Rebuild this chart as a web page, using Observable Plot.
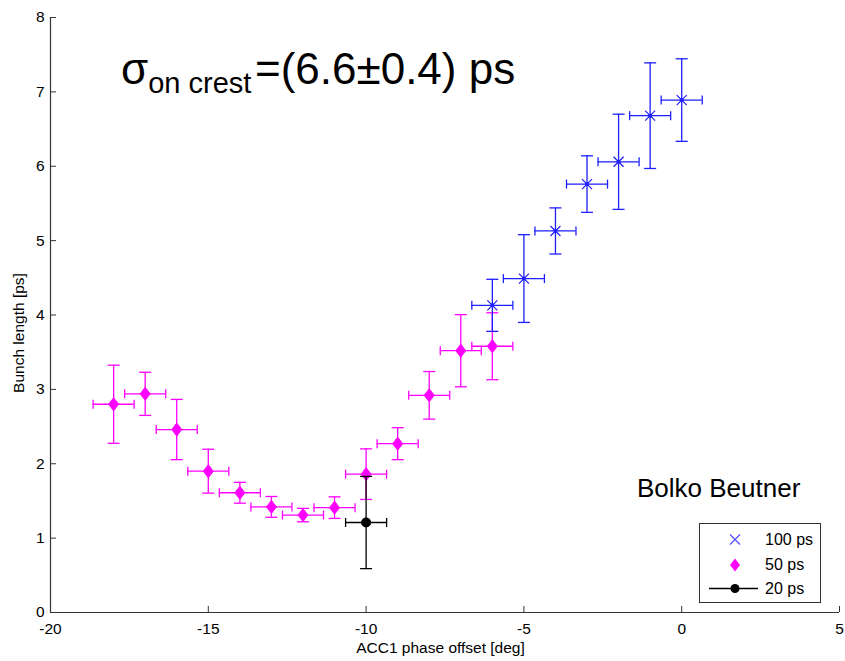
<!DOCTYPE html>
<html><head><meta charset="utf-8">
<script src="https://cdn.jsdelivr.net/npm/d3@7"></script>
<script src="https://cdn.jsdelivr.net/npm/@observablehq/plot@0.6"></script>
<style>
body{margin:0;background:#fff;}
</style></head><body><div id="chart"></div>
<script>
// ---- data ----
const xTicks = [-20, -15, -10, -5, 0, 5];
const yTicks = [0, 1, 2, 3, 4, 5, 6, 7, 8];

// 100 ps (blue)
const phase100 = [-6, -5, -4, -3, -2, -1, 0];
const len100   = [4.13, 4.49, 5.13, 5.76, 6.06, 6.68, 6.89];
const err100   = [0.35, 0.59, 0.31, 0.38, 0.64, 0.71, 0.555];
const xerr100  = [0.65, 0.65, 0.65, 0.65, 0.65, 0.65, 0.65];

// 50 ps (magenta)
const phase50 = [-18, -17, -16, -15, -14, -13, -12, -11, -10, -9, -8, -7, -6];
const len50   = [2.80, 2.94, 2.46, 1.90, 1.61, 1.42, 1.31, 1.41, 1.86, 2.27, 2.92, 3.52, 3.58];
const err50   = [0.525, 0.29, 0.405, 0.295, 0.14, 0.14, 0.09, 0.145, 0.34, 0.215, 0.32, 0.485, 0.45];
const xerr50  = [0.65, 0.65, 0.65, 0.65, 0.65, 0.65, 0.65, 0.65, 0.65, 0.65, 0.65, 0.65, 0.65];

// 20 ps (black)
const phase20 = [-10];
const len20   = [1.21];
const err20   = [0.62];
const xerr20  = [0.65];

const seriesNames = ["100 ps", "50 ps", "20 ps"];

function rows(xs, ys, es, xes) {
  return xs.map((x, i) => ({x, y: ys[i], e: es[i], xe: xes[i]}));
}
const d100 = rows(phase100, len100, err100, xerr100);
const d50 = rows(phase50, len50, err50, xerr50);
const d20 = rows(phase20, len20, err20, xerr20);

const FONT = "'Liberation Sans', Arial, Helvetica, sans-serif";
const BLUE = "#1e1eff", MAG = "#ff00ff", BLK = "#000000";

const W = 845, H = 661, mL = 50, mR = 6, mT = 17, mB = 49;

// pixel-sized symbols for caps and markers
const hcap = {draw(ctx) { ctx.moveTo(-6, 0); ctx.lineTo(6, 0); }};
const vcap = {draw(ctx) { ctx.moveTo(0, -4.5); ctx.lineTo(0, 4.5); }};
const diamond = {draw(ctx) { ctx.moveTo(0, -6.5); ctx.lineTo(5, 0); ctx.lineTo(0, 6.5); ctx.lineTo(-5, 0); ctx.closePath(); }};
const cross = {draw(ctx) { ctx.moveTo(-5, -5); ctx.lineTo(5, 5); ctx.moveTo(-5, 5); ctx.lineTo(5, -5); }};

function errorMarks(data, color) {
  const sw = 1.3;
  return [
    Plot.ruleX(data, {x: "x", y1: d => d.y - d.e, y2: d => d.y + d.e, stroke: color, strokeWidth: sw}),
    Plot.ruleY(data, {y: "y", x1: d => d.x - d.xe, x2: d => d.x + d.xe, stroke: color, strokeWidth: sw}),
    Plot.dot(data, {x: "x", y: d => d.y + d.e, symbol: hcap, stroke: color, fill: "none", strokeWidth: sw}),
    Plot.dot(data, {x: "x", y: d => d.y - d.e, symbol: hcap, stroke: color, fill: "none", strokeWidth: sw}),
    Plot.dot(data, {x: d => d.x - d.xe, y: "y", symbol: vcap, stroke: color, fill: "none", strokeWidth: sw}),
    Plot.dot(data, {x: d => d.x + d.xe, y: "y", symbol: vcap, stroke: color, fill: "none", strokeWidth: sw})
  ];
}

const frameH = H - mT - mB, frameW = W - mL - mR;

const chart = Plot.plot({
  width: W, height: H,
  marginLeft: mL, marginRight: mR, marginTop: mT, marginBottom: mB,
  style: {fontFamily: FONT, fontSize: "15.5px", color: "#000", background: "#fff"},
  x: {domain: [-20, 5]},
  y: {domain: [0, 8]},
  marks: [
    Plot.axisX({ticks: xTicks, tickSize: 0, tickPadding: 10, tickFormat: d => String(d), label: null, fontSize: 15.5}),
    Plot.axisY({ticks: yTicks, tickSize: 0, tickPadding: 6, tickFormat: d => String(d), label: null, fontSize: 15.5}),
    Plot.tickX(xTicks, {x: d => d, insetTop: frameH - 6, stroke: "#333"}),
    Plot.tickY(yTicks, {y: d => d, insetRight: frameW - 6, stroke: "#333"}),
    Plot.ruleX([-20], {stroke: "#333", strokeWidth: 1.2}),
    Plot.ruleY([0], {stroke: "#333", strokeWidth: 1.2}),
    ...errorMarks(d50, MAG),
    Plot.dot(d50, {x: "x", y: "y", symbol: diamond, fill: MAG, stroke: MAG, strokeWidth: 1}),
    ...errorMarks(d100, BLUE),
    Plot.dot(d100, {x: "x", y: "y", symbol: cross, fill: "none", stroke: BLUE, strokeWidth: 1.2}),
    Plot.dot(d100, {x: "x", y: "y", r: 2, fill: BLUE}),
    ...errorMarks(d20, BLK),
    Plot.dot(d20, {x: "x", y: "y", r: 5, fill: BLK})
  ]
});

document.getElementById("chart").appendChild(chart);

// ---- annotations, axis labels and legend ----
const svg = d3.select(chart);
const g = svg.append("g").attr("font-family", FONT).attr("fill", "#000").attr("text-anchor", "start");

const t = g.append("text").attr("x", 121).attr("y", 84).attr("text-anchor", "start");
t.append("tspan").attr("font-size", 44).text("σ");
t.append("tspan").attr("font-size", 29).attr("dy", 9).text("on crest");
t.append("tspan").attr("font-size", 44).attr("x", 255).attr("dy", -9).text("=(6.6±0.4) ps");

g.append("text").attr("x", 637).attr("y", 497).attr("font-size", 26).attr("text-anchor", "start").text("Bolko Beutner");

g.append("text").attr("x", 440.5).attr("y", 653).attr("font-size", 15.5)
  .attr("text-anchor", "middle").text("ACC1 phase offset [deg]");
g.append("text").attr("transform", "translate(24,333) rotate(-90)").attr("font-size", 15.5)
  .attr("text-anchor", "middle").text("Bunch length [ps]");

const lg = g.append("g");
lg.append("rect").attr("x", 699.5).attr("y", 523.5).attr("width", 121).attr("height", 79)
  .attr("fill", "#fff").attr("stroke", "#333").attr("stroke-width", 1);
const mx = 735;
const rowsY = [539.5, 565, 588.5];
// 100 ps
lg.append("path").attr("d", `M${mx-5},${rowsY[0]-5}L${mx+5},${rowsY[0]+5}M${mx-5},${rowsY[0]+5}L${mx+5},${rowsY[0]-5}`)
  .attr("stroke", "#5050ff").attr("stroke-width", 1.2).attr("fill", "none");
// 50 ps
lg.append("path").attr("d", `M${mx},${rowsY[1]-6.5}L${mx+5},${rowsY[1]}L${mx},${rowsY[1]+6.5}L${mx-5},${rowsY[1]}Z`)
  .attr("fill", MAG);
// 20 ps
lg.append("line").attr("x1", 709).attr("x2", 758).attr("y1", rowsY[2]).attr("y2", rowsY[2])
  .attr("stroke", BLK).attr("stroke-width", 1.3);
lg.append("circle").attr("cx", mx).attr("cy", rowsY[2]).attr("r", 4.5).attr("fill", BLK);
seriesNames.forEach((name, i) => {
  lg.append("text").attr("x", 765).attr("y", [545, 570, 593.5][i]).attr("font-size", 16)
    .attr("text-anchor", "start").text(name);
});
</script>
</body></html>
